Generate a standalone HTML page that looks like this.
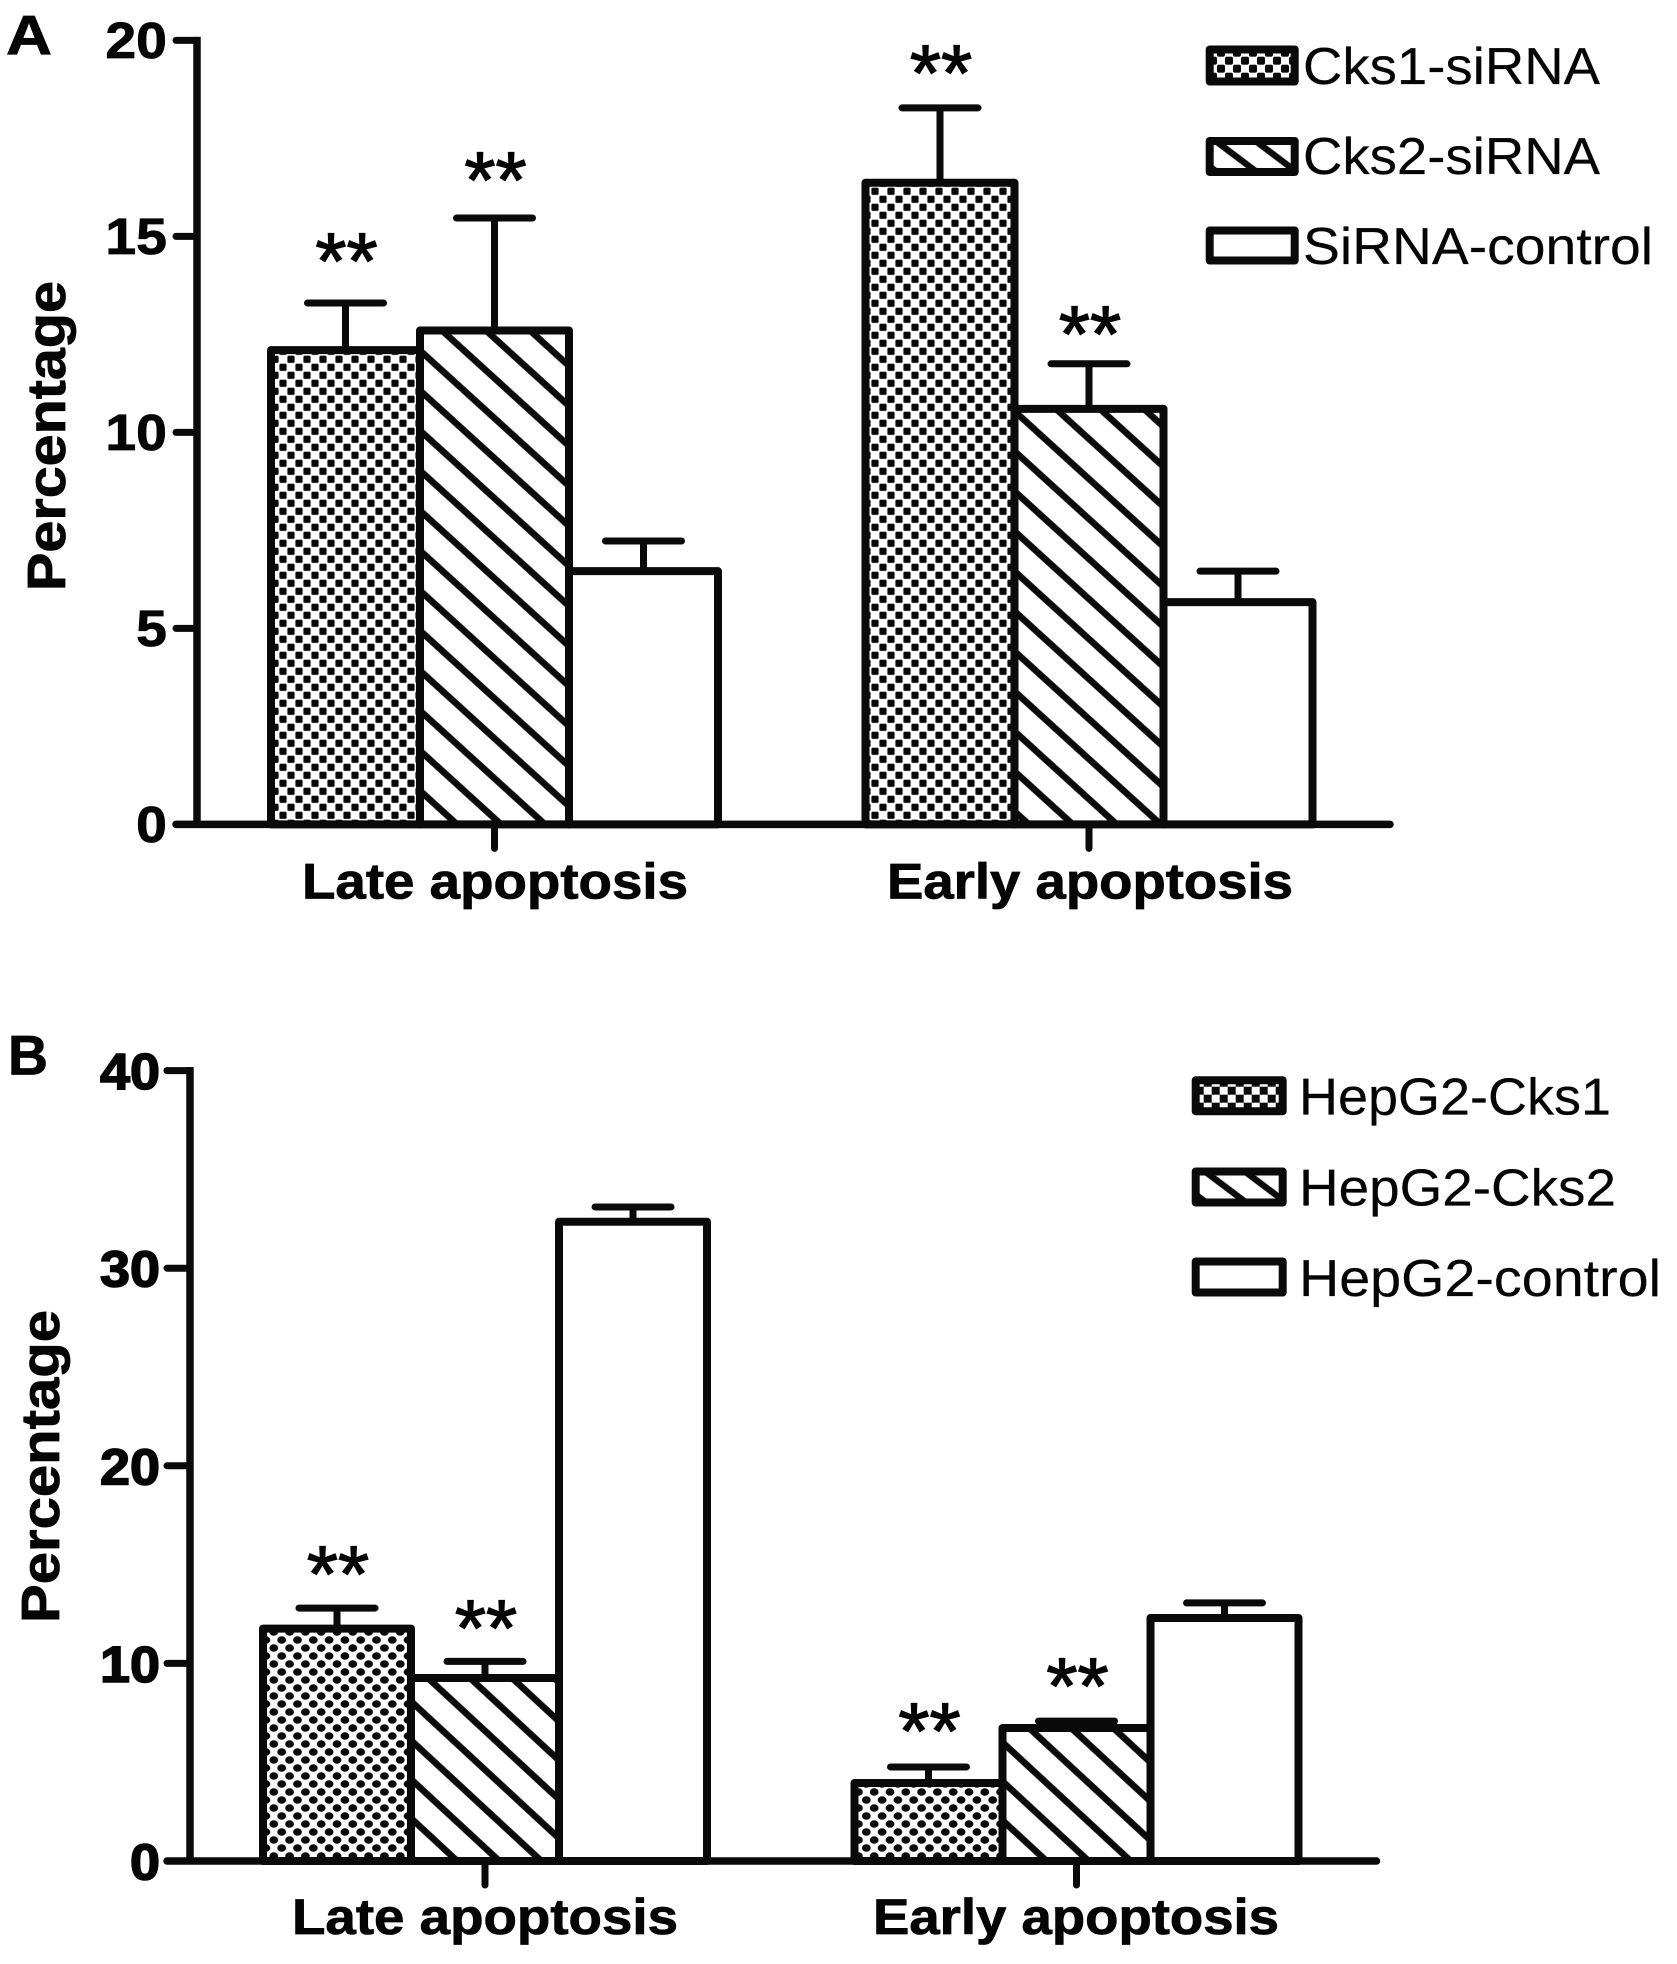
<!DOCTYPE html>
<html lang="en">
<head>
<meta charset="utf-8">
<title>Apoptosis percentage bar charts</title>
<style>
html,body{margin:0;padding:0;background:#fff}
svg{display:block}
text{font-family:"Liberation Sans",Arial,sans-serif;fill:#050505}
.b{font-weight:700;stroke:#050505;stroke-width:.8px}
.leg{font-size:52px;stroke:#050505;stroke-width:.2px}
.star{stroke:#050505;stroke-width:1.3px}
</style>
</head>
<body>
<svg id="fig" xmlns="http://www.w3.org/2000/svg" width="1677" height="1964" viewBox="0 0 1677 1964">
<defs>
  <pattern id="dotA" patternUnits="userSpaceOnUse" width="16" height="16" patternTransform="translate(287,355.3)">
    <rect width="16" height="16" fill="#fff"/>
    <rect x="0.4" y="0.4" width="7.2" height="7.2" rx="1.5" fill="#0a0a0a"/>
    <rect x="8.4" y="8.4" width="7.2" height="7.2" rx="1.5" fill="#0a0a0a"/>
  </pattern>
  <pattern id="dotB" patternUnits="userSpaceOnUse" width="15.8" height="16" patternTransform="translate(281.7,1640)">
    <rect width="15.8" height="16" fill="#fff"/>
    <ellipse cx="0" cy="0" rx="4.4" ry="3.8" fill="#0a0a0a"/>
    <ellipse cx="15.8" cy="0" rx="4.4" ry="3.8" fill="#0a0a0a"/>
    <ellipse cx="0" cy="16" rx="4.4" ry="3.8" fill="#0a0a0a"/>
    <ellipse cx="15.8" cy="16" rx="4.4" ry="3.8" fill="#0a0a0a"/>
    <ellipse cx="7.9" cy="8" rx="4.4" ry="3.8" fill="#0a0a0a"/>
  </pattern>
  <pattern id="hatchA" patternUnits="userSpaceOnUse" width="60" height="29.6" patternTransform="translate(425,355) rotate(42.3)">
    <rect width="60" height="29.6" fill="#fff"/>
    <rect x="0" y="-3.3" width="60" height="6.6" fill="#0a0a0a"/>
    <rect x="0" y="26.3" width="60" height="6.6" fill="#0a0a0a"/>
  </pattern>
  <pattern id="hatchB" patternUnits="userSpaceOnUse" width="60" height="28.6" patternTransform="translate(415,1705) rotate(42.8)">
    <rect width="60" height="28.6" fill="#fff"/>
    <rect x="0" y="-3.3" width="60" height="6.6" fill="#0a0a0a"/>
    <rect x="0" y="25.3" width="60" height="6.6" fill="#0a0a0a"/>
  </pattern>
  <pattern id="legDotA" patternUnits="userSpaceOnUse" width="16" height="16" patternTransform="translate(1225,56.7)">
    <rect width="16" height="16" fill="#fff"/>
    <rect x="0" y="0" width="8" height="8" rx="2" fill="#0a0a0a"/>
    <rect x="8" y="8" width="8" height="8" rx="2" fill="#0a0a0a"/>
  </pattern>
  <pattern id="legDotB" patternUnits="userSpaceOnUse" width="16" height="16" patternTransform="translate(1211.7,1086.7)">
    <rect width="16" height="16" fill="#fff"/>
    <rect x="0" y="0" width="8" height="8" fill="#0a0a0a"/>
    <rect x="8" y="8" width="8" height="8" fill="#0a0a0a"/>
  </pattern>
  <pattern id="legHatchA" patternUnits="userSpaceOnUse" width="60" height="24" patternTransform="translate(1217,142) rotate(37)">
    <rect width="60" height="24" fill="#fff"/>
    <rect x="0" y="-3.2" width="60" height="6.4" fill="#0a0a0a"/>
    <rect x="0" y="20.8" width="60" height="6.4" fill="#0a0a0a"/>
  </pattern>
  <pattern id="legHatchB" patternUnits="userSpaceOnUse" width="60" height="24" patternTransform="translate(1207,1173) rotate(37)">
    <rect width="60" height="24" fill="#fff"/>
    <rect x="0" y="-3.2" width="60" height="6.4" fill="#0a0a0a"/>
    <rect x="0" y="20.8" width="60" height="6.4" fill="#0a0a0a"/>
  </pattern>
</defs>

<rect width="1677" height="1964" fill="#fff"/>

<text class="b" x="6" y="54.6" font-size="56" textLength="46" lengthAdjust="spacingAndGlyphs">A</text>
<text class="b" x="8" y="1074.7" font-size="56" textLength="40" lengthAdjust="spacingAndGlyphs">B</text>

<g stroke="#0a0a0a" stroke-linejoin="round">
  <rect x="1209.7" y="49.5" width="85" height="32" stroke-width="8" fill="url(#legDotA)"/>
  <rect x="1209.7" y="141" width="85" height="31" stroke-width="8" fill="url(#legHatchA)"/>
  <rect x="1209.7" y="230.5" width="85" height="30" stroke-width="8" fill="#fff"/>
</g>
<text class="leg" x="1303" y="84" textLength="297" lengthAdjust="spacingAndGlyphs">Cks1-siRNA</text>
<text class="leg" x="1303" y="174" textLength="297" lengthAdjust="spacingAndGlyphs">Cks2-siRNA</text>
<text class="leg" x="1303" y="264" textLength="350" lengthAdjust="spacingAndGlyphs">SiRNA-control</text>

<g stroke="#0a0a0a" stroke-linejoin="round">
  <rect x="1195.7" y="1080.2" width="87" height="31" stroke-width="8" fill="url(#legDotB)"/>
  <rect x="1195.7" y="1171.5" width="87" height="31" stroke-width="8" fill="url(#legHatchB)"/>
  <rect x="1195.7" y="1261.5" width="87" height="31" stroke-width="8" fill="#fff"/>
</g>
<text class="leg" x="1299" y="1114.6" textLength="312" lengthAdjust="spacingAndGlyphs">HepG2-Cks1</text>
<text class="leg" x="1299" y="1205.7" textLength="317" lengthAdjust="spacingAndGlyphs">HepG2-Cks2</text>
<text class="leg" x="1299" y="1296" textLength="362" lengthAdjust="spacingAndGlyphs">HepG2-control</text>
</svg>

<script>
// Shared categories
const categories = ["Late apoptosis", "Early apoptosis"];

// Panel A values
const yTicksA = [0, 5, 10, 15, 20];
const cks1SirnaA = [12.1, 16.37];
const cks2SirnaA = [12.6, 10.6];
const sirnaControlA = [6.46, 5.67];
const cks1ErrorTopA = [13.3, 18.28];
const cks2ErrorTopA = [15.47, 11.75];
const controlErrorTopA = [7.23, 6.46];
// Clearance of the ** marker above the error bar, in percentage units (0 = no marker)
const cks1StarsA = [0.97, 0.79];
const cks2StarsA = [0.87, 0.66];
const controlStarsA = [0, 0];

// Panel B values
const yTicksB = [0, 10, 20, 30, 40];
const cks1HepG2B = [11.76, 3.95];
const cks2HepG2B = [9.26, 6.73];
const hepG2ControlB = [32.35, 12.3];
const cks1ErrorTopB = [12.8, 4.76];
const cks2ErrorTopB = [10.1, 7.08];
const controlErrorTopB = [33.1, 13.06];
const cks1StarsB = [1.52, 1.62];
const cks2StarsB = [1.49, 1.57];
const controlStarsB = [0, 0];

const INK = '#0a0a0a';
const svg = document.getElementById('fig');

function make(tag, attrs, parent) {
  const node = document.createElementNS('http://www.w3.org/2000/svg', tag);
  for (const k in attrs) node.setAttribute(k, attrs[k]);
  (parent || svg).appendChild(node);
  return node;
}

function drawPanel(p) {
  const y = v => p.y0 - (v - p.yMin) * p.pxPerUnit;
  const groupCenter = i => p.firstCenter + i * p.groupStep;
  const barLeft = (g, s) => groupCenter(g) + (s - 1.5) * p.barWidth;

  const panel = make('g', {});
  
  

  // error bars, behind bars
  p.series.forEach((s, si) => {
    s.values.forEach((v, g) => {
      const cx = barLeft(g, si) + p.barWidth / 2;
      const stem = make('line', {x1: cx, x2: cx, y1: y(v), y2: y(s.err[g]), stroke: INK, 'stroke-width': 7}, panel);
      
      
      const cap = make('line', {x1: cx - 38, x2: cx + 38, y1: y(s.err[g]), y2: y(s.err[g]), stroke: INK, 'stroke-width': 7, 'stroke-linecap': 'round'}, panel);
      
      
    });
  });

  // bars
  p.series.forEach((s, si) => {
    s.values.forEach((v, g) => {
      const bar = make('rect', {x: barLeft(g, si), y: y(v), width: p.barWidth, height: p.y0 - y(v),
        fill: s.fill, stroke: INK, 'stroke-width': 8, 'stroke-linejoin': 'round'}, panel);
      
      
    });
  });

  // y axis
  const yAxis = make('line', {x1: p.axisX, x2: p.axisX, y1: y(p.ticks[p.ticks.length - 1]) - 3.5, y2: p.y0 + 3.5, stroke: INK, 'stroke-width': 7.5}, panel);
  
  

  // x axis
  const xAxis = make('line', {x1: p.tickLeft, x2: p.axisEnd, y1: p.y0, y2: p.y0, stroke: INK, 'stroke-width': 7.5, 'stroke-linecap': 'round'}, panel);
  
  

  // y ticks
  p.ticks.forEach(t => {
    const tick = make('line', {x1: p.tickLeft, x2: p.axisX, y1: y(t), y2: y(t), stroke: INK, 'stroke-width': 7, 'stroke-linecap': 'round'}, panel);
    
    
    const label = make('text', {x: p.labelRight, y: y(t) + p.labelDy, 'text-anchor': 'end', class: 'b', 'font-size': 51,
      textLength: String(t).length * p.digitWidth, lengthAdjust: 'spacingAndGlyphs', style: 'stroke-width:' + p.labelStroke + 'px'}, panel);
    label.textContent = t;
    
    
  });

  // categories
  categories.forEach((c, g) => {
    const cx = groupCenter(g);
    const tick = make('line', {x1: cx, x2: cx, y1: p.y0, y2: p.y0 + p.catTick, stroke: INK, 'stroke-width': 7, 'stroke-linecap': 'round'}, panel);
    
    
    const label = make('text', {x: p.catLabelX[g], y: p.catBaseline, 'text-anchor': 'middle', class: 'b', 'font-size': 50,
      textLength: p.catLabelW[g], lengthAdjust: 'spacingAndGlyphs'}, panel);
    label.textContent = c;
    
    
  });

  // significance markers
  p.series.forEach((s, si) => {
    s.stars.forEach((gap, g) => {
      if (!gap) return;
      const cx = barLeft(g, si) + p.barWidth / 2 + 1;
      const star = make('text', {x: cx, y: y(s.err[g] + gap) + 23.6, 'text-anchor': 'middle', 'font-size': 80, class: 'star'}, panel);
      star.textContent = '**';
      
      
    });
  });

  // y axis title
  const title = make('text', {transform: 'translate(' + p.titleX + ',' + p.titleY + ') rotate(-90)', 'text-anchor': 'middle', class: 'b', 'font-size': 54,
    textLength: p.titleLen, lengthAdjust: 'spacingAndGlyphs'}, panel);
  title.textContent = 'Percentage';
  
  
}

drawPanel({
  id: 'a', ticks: yTicksA, yMin: 0, y0: 824.4, pxPerUnit: 39.2,
  axisX: 197, axisEnd: 1390, tickLeft: 176, labelRight: 167, labelDy: 17.6, digitWidth: 30.8, labelStroke: 0.8,
  firstCenter: 494.5, groupStep: 594.5, barWidth: 149, catTick: 24, catBaseline: 898.6,
  catLabelX: [495, 1090], catLabelW: [386, 406], titleX: 65, titleY: 436, titleLen: 310,
  series: [
    {key: 'cks1-sirna', values: cks1SirnaA, err: cks1ErrorTopA, stars: cks1StarsA, fill: 'url(#dotA)'},
    {key: 'cks2-sirna', values: cks2SirnaA, err: cks2ErrorTopA, stars: cks2StarsA, fill: 'url(#hatchA)'},
    {key: 'sirna-control', values: sirnaControlA, err: controlErrorTopA, stars: controlStarsA, fill: '#fff'}
  ]
});

drawPanel({
  id: 'b', ticks: yTicksB, yMin: 0, y0: 1861, pxPerUnit: 19.76,
  axisX: 190, axisEnd: 1376.5, tickLeft: 167, labelRight: 160, labelDy: 18.5, digitWidth: 30, labelStroke: 1.6,
  firstCenter: 485, groupStep: 591.5, barWidth: 148, catTick: 24, catBaseline: 1934,
  catLabelX: [485, 1076], catLabelW: [386, 406], titleX: 59, titleY: 1466.5, titleLen: 313,
  series: [
    {key: 'hepg2-cks1', values: cks1HepG2B, err: cks1ErrorTopB, stars: cks1StarsB, fill: 'url(#dotB)'},
    {key: 'hepg2-cks2', values: cks2HepG2B, err: cks2ErrorTopB, stars: cks2StarsB, fill: 'url(#hatchB)'},
    {key: 'hepg2-control', values: hepG2ControlB, err: controlErrorTopB, stars: controlStarsB, fill: '#fff'}
  ]
});
</script>
</body>
</html>
